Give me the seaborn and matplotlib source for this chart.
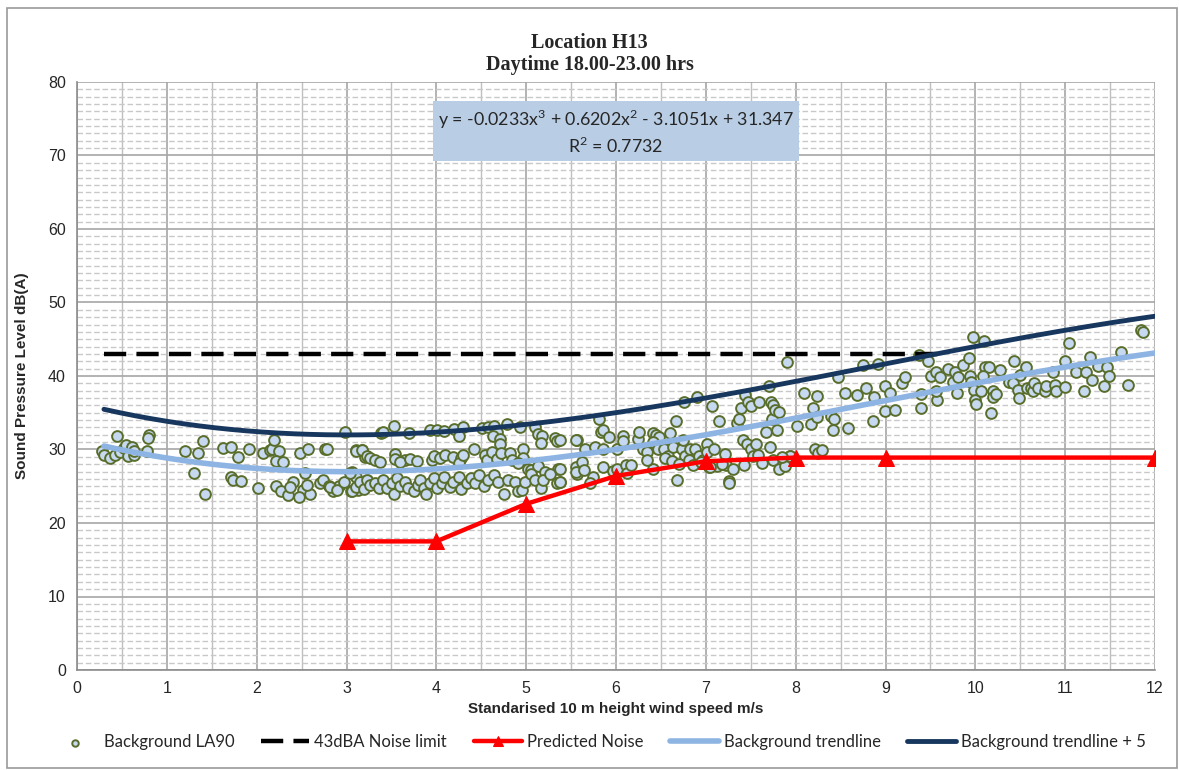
import numpy as np
import pandas as pd
import matplotlib
matplotlib.use("Agg")
import matplotlib.pyplot as plt
from matplotlib.patches import Rectangle
from matplotlib.ticker import MultipleLocator
import seaborn as sns

# ---------------- data ----------------
bg_wind = [
    0.44, 0.275, 0.30, 0.37, 0.42, 0.48, 0.52, 0.55, 0.61, 0.57, 0.63, 0.63, 0.78, 0.80, 0.79,
    1.20, 1.35, 1.40, 1.30, 1.43, 1.62, 1.71, 1.79, 1.92, 1.71, 1.74, 1.83, 2.02, 2.07, 2.15,
    2.17, 2.25, 2.19, 2.21, 2.29, 2.22, 2.27, 2.35, 2.41, 2.37, 2.48, 2.57, 2.54, 2.52, 2.47,
    2.59, 2.56, 2.71, 2.74, 2.76, 2.78, 2.80, 2.85, 2.92, 2.98, 3.06, 3.05, 3.11, 3.13, 3.11,
    3.17, 3.21, 3.23,
    3.38, 3.41, 3.53, 3.70, 3.93, 4.01, 4.08, 4.20, 4.30, 4.25, 4.51, 4.58, 4.64, 4.67, 4.79,
    4.63, 4.71, 4.71, 4.93, 5.10, 5.13, 5.18, 5.16, 5.32, 5.34, 5.57,
    3.11, 3.17, 3.23, 3.26, 3.32, 3.37, 3.54, 3.54, 3.65, 3.60, 3.71, 3.78, 3.95, 3.97, 4.04,
    4.10, 4.19, 4.28, 4.25, 4.30, 4.42, 4.54, 4.56, 4.62, 4.67, 4.72, 4.82, 4.84, 4.96, 4.97,
    4.91, 5.02, 5.05, 5.13, 5.21, 5.35,
    2.82, 2.89, 2.97, 3.04, 3.06, 3.11, 3.15, 3.19, 3.23, 3.26, 3.32, 3.36, 3.41, 3.45, 3.51,
    3.53, 3.56, 3.60, 3.65, 3.69, 3.75, 3.80, 3.82, 3.86, 3.89, 3.93, 3.97, 4.01, 4.06, 4.08,
    4.15, 4.19, 4.25, 4.28, 4.34, 4.39, 4.43, 4.47, 4.53, 4.58, 4.64, 4.69, 4.75, 4.80, 4.88,
    4.91, 4.95, 4.99, 5.05, 5.10, 5.16, 5.19, 5.27, 5.34, 5.38, 5.57,
    5.38, 5.38, 5.38, 5.56, 5.55, 5.56, 5.62, 5.64, 5.66, 5.74, 5.71, 5.77, 5.81, 5.83, 5.86,
    5.86, 5.85, 5.92, 5.97, 6.01, 6.01, 6.08, 6.08, 6.11, 6.12, 6.17, 6.24, 6.26, 6.30, 6.34,
    6.41, 6.41, 6.45, 6.48, 6.41, 6.47, 6.53, 6.58, 6.60, 6.64, 6.67, 6.68, 6.73, 6.77, 6.75,
    6.76, 6.82, 6.81, 6.86, 6.88, 6.90, 6.92, 6.97, 7.01, 7.01, 7.03, 7.07, 7.09, 7.12, 7.15,
    7.21, 7.23, 7.26, 7.26, 7.35, 7.37, 7.39, 7.41, 7.44, 7.47, 7.50, 7.46, 7.50, 7.53, 7.56,
    7.58, 7.59, 7.67, 7.70, 7.71, 7.72, 7.75, 7.74, 7.77, 7.79, 7.82, 7.75, 7.81, 7.88, 7.94,
    7.90, 8.02, 8.09,
    7.94, 8.17, 8.19, 8.21, 8.25, 8.29, 8.24, 8.24, 8.39, 8.43, 8.42, 8.47, 8.55, 8.58, 8.68,
    8.75, 8.78, 8.87, 8.86, 8.92, 8.99, 8.99, 9.05, 9.11, 9.18, 9.22, 9.37, 9.39, 9.47, 9.40,
    9.51, 9.56, 9.57, 9.56, 9.61, 9.70, 9.75, 9.77, 9.80, 9.81, 9.86, 9.93, 9.94, 9.95, 9.97,
    9.98, 10.00, 10.01, 10.06, 10.10, 10.11, 10.15, 10.09, 10.17, 10.20, 10.20, 10.23, 10.28, 10.37, 10.43,
    10.42, 10.48, 10.49, 10.50, 10.56, 10.57, 10.62, 10.64, 10.65, 10.70, 10.78, 10.79, 10.89, 10.90, 10.87,
    11.00, 11.00, 11.04, 11.12, 11.21, 11.23, 11.28, 11.30, 11.37, 11.43, 11.47, 11.49, 11.62, 11.70, 11.84,
    11.87,
    6.35, 6.55, 6.62, 6.70, 6.95, 7.05, 7.18, 7.30, 7.42, 7.62, 7.85,
]
bg_level = [
    31.8, 29.8, 29.25, 28.9, 29.25, 29.7, 30.2, 30.6, 30.4, 29.1, 29.25, 29.8, 29.8, 32.0, 31.6,
    29.8, 29.5, 31.2, 26.8, 23.9, 30.2, 30.4, 29.0, 30.1, 26.3, 25.9, 25.7, 24.7, 29.5, 29.9,
    30.1, 29.8, 31.3, 28.5, 28.3, 25.0, 24.4, 23.8, 25.6, 24.85, 29.5, 30.1, 26.8, 24.5, 23.6,
    24.0, 25.2, 25.5, 25.8, 30.1, 30.1, 25.0, 24.3, 25.0, 32.4, 26.9, 24.3, 26.3, 24.5, 29.9,
    29.9, 29.0, 25.8,
    32.2, 32.4, 33.2, 32.3, 32.7, 32.7, 32.5, 32.8, 33.1, 31.8, 32.9, 33.1, 33.2, 32.4, 33.5,
    31.9, 31.4, 30.8, 33.0, 33.1, 32.1, 31.8, 30.9, 31.5, 31.1, 31.3,
    29.8, 29.9, 29.1, 28.8, 28.6, 28.3, 29.4, 28.7, 28.6, 28.3, 28.7, 28.4, 28.6, 29.1, 28.8,
    29.3, 29.0, 28.8, 28.2, 29.3, 30.0, 29.3, 28.6, 29.6, 28.7, 29.5, 29.5, 28.6, 30.0, 28.9,
    28.1, 27.4, 27.2, 27.7, 27.0, 27.4,
    24.9, 24.5, 25.6, 26.8, 24.3, 24.9, 25.6, 24.6, 25.9, 25.2, 25.5, 24.7, 25.9, 24.7, 25.4,
    24.0, 26.1, 25.0, 25.6, 24.7, 24.3, 25.2, 25.9, 24.7, 24.0, 25.4, 26.1, 24.7, 25.4, 26.3,
    24.9, 25.6, 26.3, 24.6, 25.5, 26.1, 25.4, 26.5, 25.0, 25.9, 26.5, 25.6, 24.0, 25.9, 25.6,
    24.3, 24.5, 25.6, 26.7, 25.9, 24.7, 25.9, 26.7, 25.5, 25.6, 26.7,
    31.3, 27.4, 25.6, 31.3, 27.6, 27.0, 28.3, 27.2, 30.0, 26.3, 25.4, 30.4, 34.2, 32.4, 32.7,
    30.0, 27.6, 31.7, 27.1, 27.4, 30.1, 31.8, 31.2, 27.9, 26.8, 27.9, 31.4, 32.4, 30.0, 29.7,
    27.4, 32.3, 32.0, 31.7, 31.0, 30.0, 30.1, 29.1, 32.3, 30.4, 33.9, 25.8, 30.1, 29.1, 31.3,
    36.5, 30.1, 28.6, 27.9, 30.0, 37.2, 29.1, 28.6, 30.7, 29.7, 27.6, 35.9, 30.0, 27.7, 33.9,
    29.4, 27.9, 25.7, 25.4, 33.6, 34.2, 35.6, 31.3, 37.4, 36.5, 35.9, 30.7, 30.0, 29.1, 30.7,
    29.3, 36.5, 32.4, 38.6, 30.3, 36.5, 36.0, 34.2, 35.4, 32.7, 35.1, 28.6, 27.4, 27.7, 29.1,
    41.9, 33.2, 37.7,
    29.1, 33.5, 35.7, 30.0, 29.5, 29.9, 37.3, 34.4, 34.6, 34.1, 32.7, 39.9, 37.7, 32.9, 37.4,
    41.5, 38.3, 37.1, 33.9, 41.6, 38.6, 35.3, 37.7, 35.4, 39.1, 39.9, 42.9, 35.7, 42.0, 37.6,
    40.0, 40.5, 36.8, 37.9, 39.9, 40.9, 39.2, 40.6, 37.7, 39.8, 41.5, 42.4, 40.0, 39.2, 45.3,
    38.1, 36.7, 36.2, 38.0, 44.8, 41.2, 41.2, 40.0, 34.9, 37.9, 37.1, 37.5, 40.8, 39.2, 42.1,
    39.1, 38.1, 37.0, 40.1, 41.2, 38.3, 38.3, 37.9, 39.1, 38.3, 38.0, 38.6, 38.8, 37.9, 40.5,
    42.1, 38.5, 44.5, 40.5, 38.0, 40.6, 42.6, 39.4, 41.4, 38.7, 41.2, 40.0, 43.2, 38.8, 46.3,
    46.0,
    28.6, 28.9, 28.4, 28.0, 28.3, 27.6, 28.0, 27.4, 27.9, 28.2, 29.0,
]

limit_wind = [0.3, 9.65]
limit_level = [43, 43]

pred_wind = [3, 4, 5, 6, 7, 8, 9, 12]
pred_level = [17.5, 17.5, 22.6, 26.4, 28.4, 28.9, 28.9, 28.9]

coef = [-0.0233, 0.6202, -3.1051, 31.347]
trend_wind = np.linspace(0.3, 12, 200)
trend_level = np.polyval(coef, trend_wind)
trend5_level = trend_level + 5

x_ticks = list(range(0, 13))
y_ticks = list(range(0, 81, 10))

title = "Location H13\nDaytime 18.00-23.00 hrs"
xlabel = "Standarised 10 m height wind speed m/s"
ylabel = "Sound Pressure Level dB(A)"
eq_text = "y = -0.0233x$^3$ + 0.6202x$^2$ - 3.1051x + 31.347\nR$^2$ = 0.7732"

# ---------------- plot ----------------
sns.set_style("white")
plt.rcParams['font.family'] = ['Liberation Sans', 'DejaVu Sans']
plt.rcParams['mathtext.fontset'] = 'custom'
plt.rcParams['mathtext.rm'] = 'Lato'

fig = plt.figure(figsize=(11.79, 7.70), dpi=100)
ax = fig.add_axes([77/1179, 100/770, (1155-77)/1179, (670-82)/770])

# outer frame
fig.patches.append(Rectangle((7/1179, 2/770), (1177-7)/1179, (762-2)/770,
                             transform=fig.transFigure, fill=False,
                             edgecolor='#9a9a9a', linewidth=1.2, zorder=0))

ax.set_xlim(0, 12)
ax.set_ylim(0, 80)
ax.xaxis.set_major_locator(MultipleLocator(1))
ax.xaxis.set_minor_locator(MultipleLocator(0.5))
ax.yaxis.set_major_locator(MultipleLocator(10))
ax.yaxis.set_minor_locator(MultipleLocator(1))
ax.grid(which='major', axis='x', color='#a6a6a6', linewidth=1.2)
ax.grid(which='minor', axis='x', color='#bfbfbf', linewidth=1.0)
ax.grid(which='major', axis='y', color='#a6a6a6', linewidth=1.2)
ax.grid(which='minor', axis='y', color='#c8c8c8', linewidth=1.0, linestyle=(0, (4, 2)))
ax.set_axisbelow(True)
for s in ['top', 'right']:
    ax.spines[s].set_visible(False)
for s in ['left', 'bottom']:
    ax.spines[s].set_color('#8c8c8c')
    ax.spines[s].set_linewidth(1.2)
ax.tick_params(which='both', length=0, labelsize=11.5, pad=8)

df_bg = pd.DataFrame({'wind': bg_wind, 'level': bg_level})
sns.scatterplot(data=df_bg, x='wind', y='level', ax=ax, s=60, color='#c6d9f1',
                edgecolor='#5a6e2c', linewidth=1.4, zorder=3,
                label='Background LA90')

sns.lineplot(x=limit_wind, y=limit_level, ax=ax, color='black', linewidth=3.2,
             linestyle=(0, (5, 2.3)), zorder=4, label='43dBA Noise limit')
sns.lineplot(x=pred_wind, y=pred_level, ax=ax, color='#ff0000', linewidth=3.2,
             marker='^', markersize=12, markeredgecolor='#ff0000', zorder=5,
             label='Predicted Noise')
sns.lineplot(x=trend_wind, y=trend_level, ax=ax, color='#8db4e2', linewidth=4,
             zorder=4, label='Background trendline')
sns.lineplot(x=trend_wind, y=trend5_level, ax=ax, color='#17375e', linewidth=3.5,
             zorder=4, label='Background trendline + 5')

ax.set_xticks(x_ticks)
ax.set_yticks(y_ticks)
ax.set_xlabel(xlabel, fontsize=11, fontweight='bold', labelpad=4)
ax.set_ylabel(ylabel, fontsize=11, fontweight='bold', labelpad=14)

fig.suptitle(title, family='Liberation Serif', fontweight='bold', fontsize=14.5,
             y=0.957, linespacing=1.1)

ax.text(6.0, 73.2, eq_text, ha='center', va='center', fontsize=12.8,
        family=['Lato', 'DejaVu Sans'], linespacing=1.25, zorder=6,
        bbox=dict(boxstyle='square,pad=0.3', facecolor='#b9cde5', edgecolor='none'))

handles, labels = ax.get_legend_handles_labels()
ax.get_legend().remove()
leg = fig.legend(handles, labels, loc='center', bbox_to_anchor=(598/1179, 28/770), ncol=5,
                 frameon=False, fontsize=12, handlelength=2.9, columnspacing=1.6,
                 handletextpad=0.3, markerscale=0.6)
for t in leg.get_texts():
    t.set_family(['Lato', 'DejaVu Sans'])

fig.savefig('out.png', dpi=100)
